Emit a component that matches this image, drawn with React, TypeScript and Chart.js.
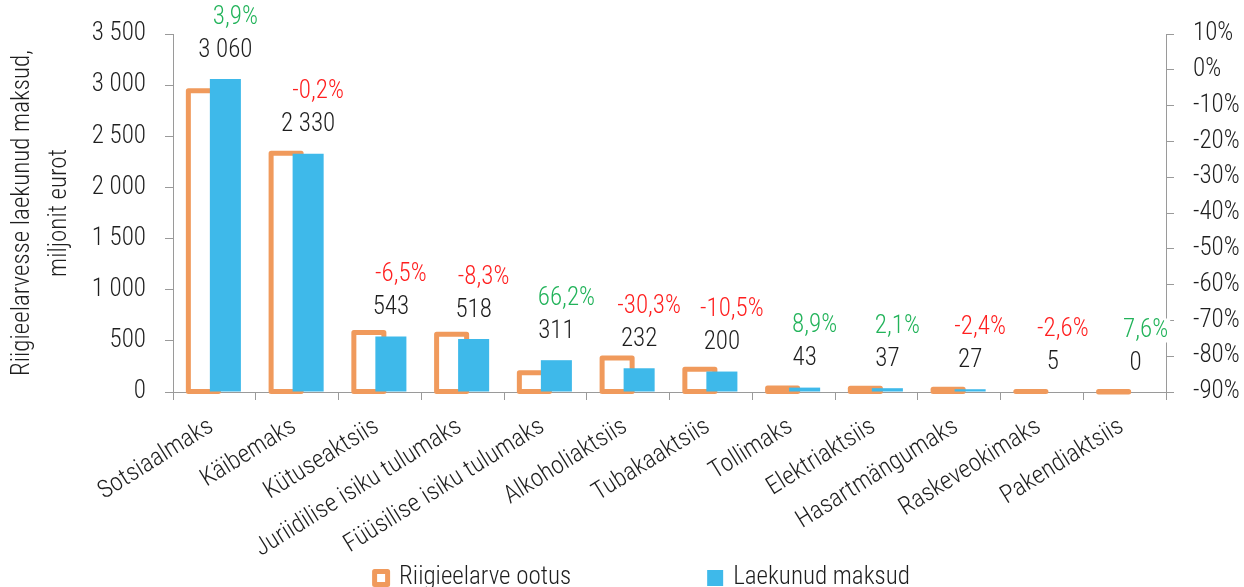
import React, { useEffect, useRef } from 'react';
import { Chart, registerables } from 'chart.js';

Chart.register(...registerables);

const categories = [
  'Sotsiaalmaks',
  'Käibemaks',
  'Kütuseaktsiis',
  'Juriidilise isiku tulumaks',
  'Füüsilise isiku tulumaks',
  'Alkoholiaktsiis',
  'Tubakaaktsiis',
  'Tollimaks',
  'Elektriaktsiis',
  'Hasartmängumaks',
  'Raskeveokimaks',
  'Pakendiaktsiis',
];
const expectedValues = [2945, 2335, 581, 565, 187, 333, 223, 39.5, 36.2, 27.7, 5.1, 0.4];
const actualValues = [3060, 2330, 543, 518, 311, 232, 200, 43, 37, 27, 5, 0];
const changePercent = [3.9, -0.2, -6.5, -8.3, 66.2, -30.3, -10.5, 8.9, 2.1, -2.4, -2.6, 7.6];
const seriesNames = ['Riigieelarve ootus', 'Laekunud maksud'];
const leftAxisTitle = ['Riigieelarvesse laekunud maksud,', 'miljonit eurot'];
const leftMin = 0, leftMax = 3500, leftStep = 500;
const rightMin = -90, rightMax = 10, rightStep = 10;

const W = 1244, H = 587;
const ORANGE = '#F09A5C';
const BLUE = '#3EB9EA';
const GREEN = '#22B35A';
const RED = '#FF1F1F';
const TEXT = '#1e1e1e';
const AXIS = '#9a9a9a';
const FAMILY = '"Roboto Condensed", Roboto, "Liberation Sans Narrow", sans-serif';
const FSIZE = 25;
const fontStr = (s: number) => `condensed 300 ${s}px ${FAMILY}`;

const fmtNum = (v: number) => {
  const r = Math.round(v).toString();
  return r.replace(/\B(?=(\d{3})+(?!\d))/g, ' ');
};
const fmtPct = (v: number) => v.toFixed(1).replace('.', ',') + '%';

const overlayPlugin = {
  id: 'overlay',
  beforeDatasetsDraw(chart: any) {
    const meta = chart.getDatasetMeta(0);
    const ctx = chart.ctx;
    ctx.save();
    ctx.strokeStyle = ORANGE;
    ctx.lineWidth = 5;
    ctx.lineJoin = 'round';
    meta.data.forEach((el: any) => {
      const p = el.getProps(['x', 'y', 'base', 'width'], true);
      const top = Math.min(p.y, p.base);
      const h = Math.abs(p.base - p.y);
      ctx.strokeRect(p.x - p.width / 2, top, p.width, h);
    });
    ctx.restore();
  },
  afterDatasetsDraw(chart: any) {
    const meta = chart.getDatasetMeta(1);
    const ctx = chart.ctx;
    ctx.save();
    ctx.font = fontStr(FSIZE);
    ctx.textAlign = 'center';
    ctx.textBaseline = 'middle';
    meta.data.forEach((el: any, i: number) => {
      const p = el.getProps(['x', 'y'], true);
      const vy = p.y - 28.5;
      ctx.fillStyle = TEXT;
      ctx.fillText(fmtNum(actualValues[i]), p.x, vy);
      const pct = changePercent[i];
      const txt = fmtPct(pct);
      const px = p.x + 10;
      const py = vy - 33;
      const tw = ctx.measureText(txt).width;
      ctx.fillStyle = '#ffffff';
      ctx.fillRect(px - tw / 2 - 2, py - 12, tw + 4, 24);
      ctx.fillStyle = pct >= 0 ? GREEN : RED;
      ctx.fillText(txt, px, py);
    });
    ctx.restore();
  },
  afterDraw(chart: any) {
    const ctx = chart.ctx;
    ctx.save();
    ctx.font = fontStr(FSIZE);
    ctx.textBaseline = 'middle';
    ctx.textAlign = 'left';
    const cy = 578;
    const t1 = ctx.measureText(seriesNames[0]).width;
    const t2 = ctx.measureText(seriesNames[1]).width;
    const marker = 18, gapText = 9, gapItems = 135;
    const total = marker + gapText + t1 + gapItems + marker + gapText + t2;
    let x = 641 - total / 2;
    ctx.strokeStyle = ORANGE;
    ctx.lineWidth = 5;
    ctx.lineJoin = 'round';
    ctx.strokeRect(x + 2.5, cy - 6.5, marker - 5, 13);
    ctx.fillStyle = TEXT;
    ctx.fillText(seriesNames[0], x + marker + gapText, cy);
    x += marker + gapText + t1 + gapItems;
    ctx.fillStyle = BLUE;
    ctx.fillRect(x + 1, cy - 8, 16, 16);
    ctx.fillStyle = TEXT;
    ctx.fillText(seriesNames[1], x + marker + gapText, cy);
    ctx.restore();
  },
};

export default function App() {
  const ref = useRef<HTMLCanvasElement>(null);
  useEffect(() => {
    if (!ref.current) return;
    const tickFont = { family: FAMILY, size: FSIZE, weight: 300 as any, style: 'condensed' as any };
    const titleFont = { family: FAMILY, size: FSIZE, weight: 300 as any, style: 'condensed' as any, lineHeight: 1.45 };
    const chart = new Chart(ref.current, {
      type: 'bar',
      data: {
        labels: categories,
        datasets: [
          {
            label: seriesNames[0],
            data: expectedValues,
            backgroundColor: 'rgba(0,0,0,0)',
            borderWidth: 0,
            categoryPercentage: 0.532,
            barPercentage: 1.364,
            yAxisID: 'y',
          },
          {
            label: seriesNames[1],
            data: actualValues,
            backgroundColor: BLUE,
            borderWidth: 0,
            categoryPercentage: 0.532,
            barPercentage: 1.41,
            yAxisID: 'y',
          },
        ],
      },
      options: {
        responsive: false,
        animation: false,
        events: [],
        layout: { padding: { top: 32, left: 0, right: 0, bottom: 0 } },
        plugins: {
          legend: { display: false },
          tooltip: { enabled: false },
        },
        scales: {
          x: {
            type: 'category',
            offset: true,
            grid: { offset: true, drawOnChartArea: false, drawTicks: true, tickLength: 8, color: AXIS },
            border: { color: AXIS, width: 1 },
            ticks: {
              color: TEXT,
              font: tickFont,
              minRotation: 32,
              maxRotation: 32,
              autoSkip: false,
              padding: 12,
              labelOffset: -3,
            },
            afterFit: (s: any) => { s.height = H - 392; },
          },
          y: {
            type: 'linear',
            position: 'left',
            min: leftMin,
            max: leftMax,
            grid: { drawOnChartArea: false, drawTicks: true, tickLength: 8, color: AXIS },
            border: { color: AXIS, width: 1 },
            ticks: {
              stepSize: leftStep,
              color: TEXT,
              font: tickFont,
              padding: 19,
              callback: (v: any) => fmtNum(Number(v)),
            },
            title: {
              display: true,
              text: leftAxisTitle,
              color: TEXT,
              font: titleFont,
              padding: { top: 5, bottom: 0 },
            },
            afterFit: (s: any) => { s.width = 173; },
          },
          y1: {
            type: 'linear',
            position: 'right',
            min: rightMin,
            max: rightMax,
            grid: { drawOnChartArea: false, drawTicks: true, tickLength: 8, color: AXIS },
            border: { color: AXIS, width: 1 },
            ticks: {
              stepSize: rightStep,
              color: TEXT,
              font: tickFont,
              padding: 19,
              callback: (v: any) => `${v}%`,
            },
            afterFit: (s: any) => { s.width = W - 1166; },
          },
        },
      },
      plugins: [overlayPlugin],
    });
    return () => chart.destroy();
  }, []);
  return (
    <div style={{ position: 'fixed', left: 0, top: 0, width: W, height: H, background: '#fff' }}>
      <canvas ref={ref} width={W} height={H} style={{ display: 'block' }} />
    </div>
  );
}
